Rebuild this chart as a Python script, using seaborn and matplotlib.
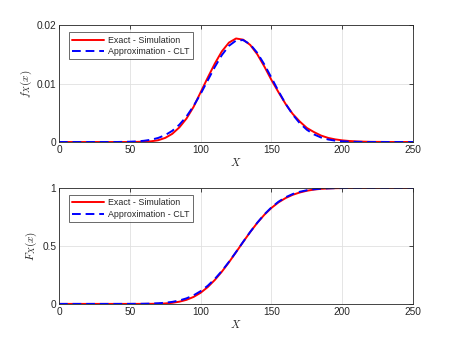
import numpy as np
import pandas as pd
import seaborn as sns
import matplotlib.pyplot as plt
from matplotlib.ticker import FixedLocator

# x grid, step 5 from 0 to 250
x_vals = list(range(0, 251, 5))

# pdf
pdf_exact = [0, 0, 0, 0, 0, 0, 0, 0, 0, 0,
             0.0, 0.00002, 0.00005, 0.00012, 0.0003, 0.0007, 0.0014, 0.0025, 0.0040, 0.0060,
             0.0085, 0.0110, 0.0134, 0.0155, 0.0170, 0.0177, 0.0175, 0.0166, 0.0150, 0.0129,
             0.0106, 0.0085, 0.0065, 0.0048, 0.0035, 0.0024, 0.0017, 0.0011, 0.0007, 0.00045,
             0.00028, 0.00017, 0.0001, 0.00006, 0.00003, 0.00002, 0.00001, 0, 0, 0, 0]
pdf_clt = [0, 0, 0, 0, 0, 0, 0, 0, 0, 0.00002,
           0.00005, 0.0001, 0.00021, 0.00039, 0.00069, 0.00118, 0.00191, 0.00296, 0.00436, 0.00615,
           0.00823, 0.01052, 0.01282, 0.01487, 0.01645, 0.01735, 0.01743, 0.01670, 0.01524, 0.01325,
           0.01099, 0.00868, 0.00653, 0.00469, 0.00321, 0.00209, 0.00130, 0.00077, 0.00043, 0.00023,
           0.00012, 0.00006, 0.00003, 0.00001, 0, 0, 0, 0, 0, 0, 0]

# cdf
cdf_exact = [0, 0, 0, 0, 0, 0, 0, 0, 0, 0,
             0, 0.00005, 0.0002, 0.0006, 0.0016, 0.0040, 0.0092, 0.019, 0.035, 0.060,
             0.096, 0.145, 0.206, 0.278, 0.359, 0.446, 0.534, 0.620, 0.699, 0.769,
             0.828, 0.876, 0.913, 0.941, 0.961, 0.976, 0.986, 0.9925, 0.996, 0.998,
             0.9991, 0.9996, 0.9998, 0.9999, 1, 1, 1, 1, 1, 1, 1]
cdf_clt = [0, 0, 0, 0, 0, 0, 0, 0, 0, 0.0001,
           0.0003, 0.0007, 0.0014, 0.0029, 0.0055, 0.0100, 0.0176, 0.0296, 0.0478, 0.0739,
           0.1097, 0.1565, 0.2150, 0.2843, 0.3628, 0.4475, 0.5350, 0.6206, 0.7006, 0.7722,
           0.8327, 0.8818, 0.9198, 0.9477, 0.9673, 0.9803, 0.9887, 0.9938, 0.9967, 0.9984,
           0.9992, 0.9996, 0.9998, 0.9999, 1, 1, 1, 1, 1, 1, 1]

x_ticks = [0, 50, 100, 150, 200, 250]
pdf_ticks = [0, 0.01, 0.02]
pdf_tick_labels = ["0", "0.01", "0.02"]
cdf_ticks = [0, 0.5, 1]
cdf_tick_labels = ["0", "0.5", "1"]

sns.set_style("white")
plt.rcParams["font.family"] = ["Liberation Sans", "DejaVu Sans"]
plt.rcParams["mathtext.fontset"] = "cm"

fig = plt.figure(figsize=(4.57, 3.43), dpi=100)
ax1 = fig.add_axes([0.129, 0.586, 0.775, 0.341])
ax2 = fig.add_axes([0.129, 0.114, 0.775, 0.338])

df = pd.DataFrame({"x": x_vals, "pdf_exact": pdf_exact, "pdf_clt": pdf_clt,
                   "cdf_exact": cdf_exact, "cdf_clt": cdf_clt})


def draw(ax, exact_col, clt_col, yticks, ylabels, ylabel):
    sns.lineplot(data=df, x="x", y=exact_col, ax=ax, color="#ff0000", lw=1.4,
                 label="Exact - Simulation")
    sns.lineplot(data=df, x="x", y=clt_col, ax=ax, color="#0000ff", lw=1.4,
                 dashes=False, label="Approximation - CLT", linestyle=(0, (4.5, 2.5)))
    ax.set_xlim(0, 250)
    ax.set_ylim(yticks[0], yticks[-1])
    ax.xaxis.set_major_locator(FixedLocator(x_ticks))
    ax.set_yticks(yticks)
    ax.set_yticklabels(ylabels)
    ax.tick_params(direction="in", length=3, width=0.6, labelsize=7.3,
                   top=True, right=True, colors="#262626", pad=2)
    ax.grid(True, color="#e0e0e0", lw=0.6)
    for sp in ax.spines.values():
        sp.set_color("#262626")
        sp.set_linewidth(0.6)
    ax.set_xlabel("$X$", fontsize=8, labelpad=1, color="#262626")
    ax.set_ylabel(ylabel, fontsize=8, labelpad=2, color="#262626")
    leg = ax.legend(loc="upper left", bbox_to_anchor=(0.028, 0.94), fontsize=6.4,
                    frameon=True, fancybox=False, borderaxespad=0,
                    borderpad=0.4, handlelength=3.6, handletextpad=0.4,
                    labelspacing=0.25)
    leg.get_frame().set_edgecolor("#262626")
    leg.get_frame().set_linewidth(0.6)


draw(ax1, "pdf_exact", "pdf_clt", pdf_ticks, pdf_tick_labels, "$f_X(x)$")
draw(ax2, "cdf_exact", "cdf_clt", cdf_ticks, cdf_tick_labels, "$F_X(x)$")

fig.savefig("out.png", dpi=100)
